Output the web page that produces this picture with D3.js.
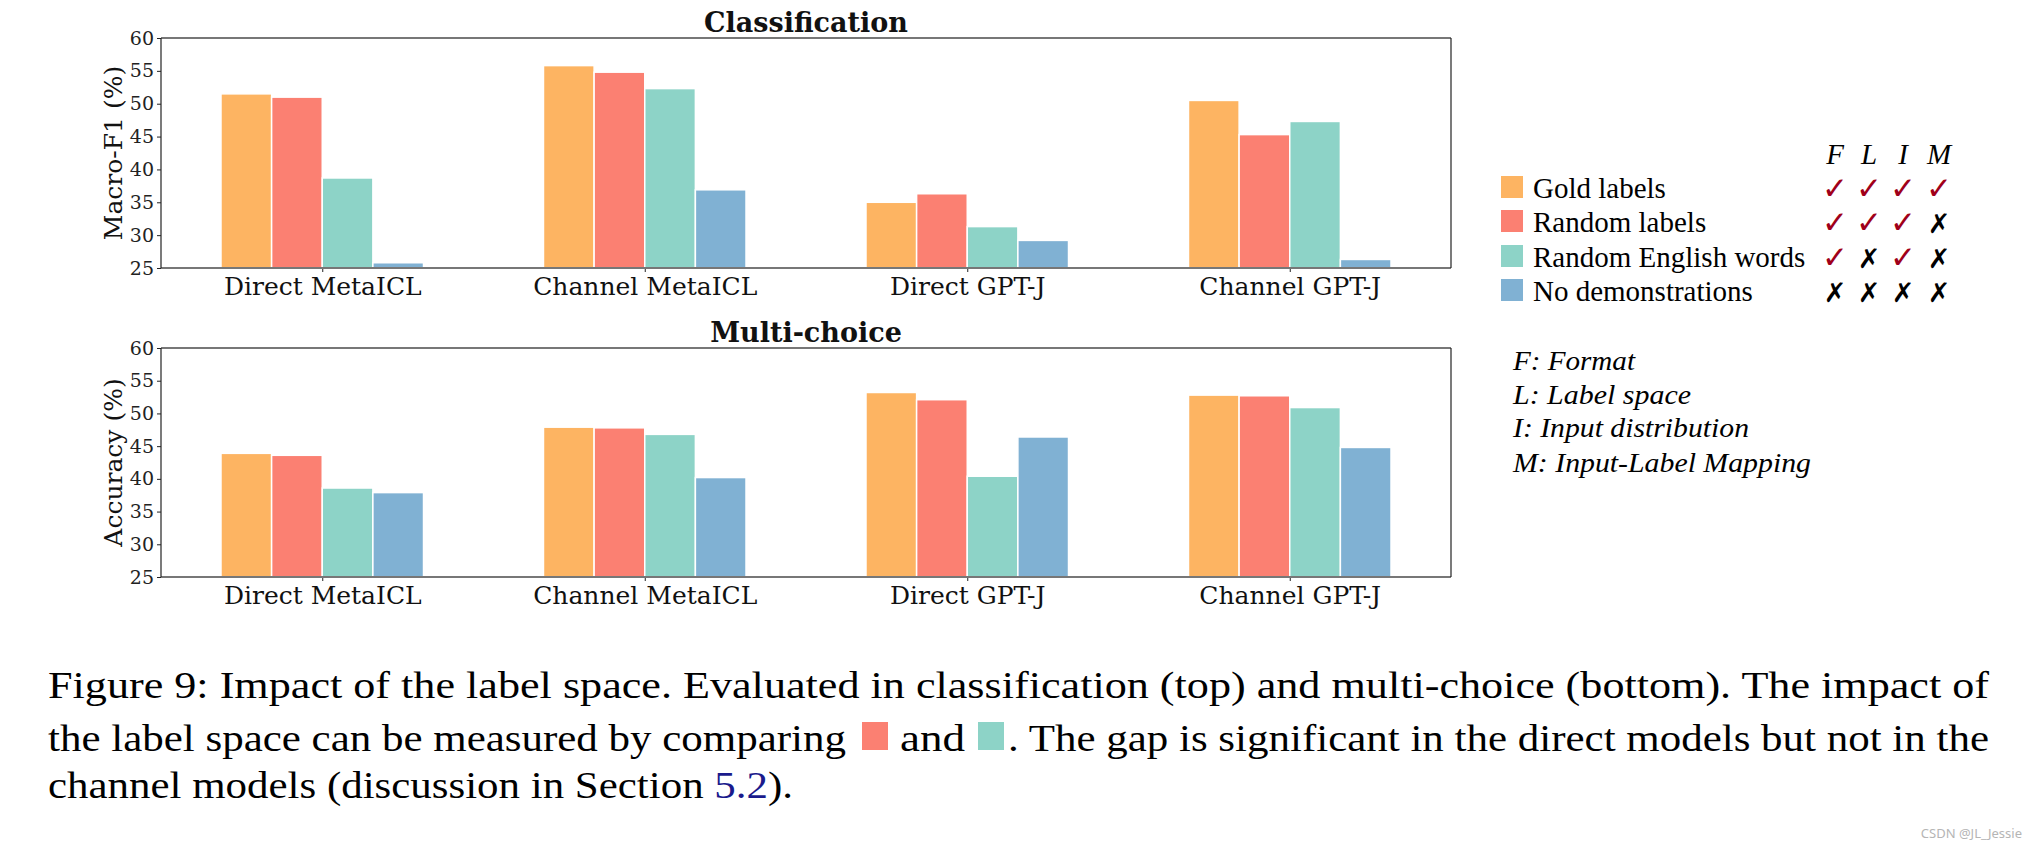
<!DOCTYPE html>
<html><head><meta charset="utf-8">
<script src="https://cdn.jsdelivr.net/npm/d3@7"></script>
<style>body{margin:0;background:#fff;} svg{display:block} .tm{font-family:'Liberation Serif';} .dv{font-family:'DejaVu Serif';}</style>
</head><body>
<svg id="c" width="2038" height="850"></svg>
<script>
// ---------- data ----------
const models = ["Direct MetaICL", "Channel MetaICL", "Direct GPT-J", "Channel GPT-J"];
const conditions = ["Gold labels", "Random labels", "Random English words", "No demonstrations"];
const clsGold    = [51.5, 55.8, 35.0, 50.5];
const clsRandom  = [51.0, 54.8, 36.3, 45.3];
const clsEnglish = [38.7, 52.3, 31.3, 47.3];
const clsNone    = [25.8, 36.9, 29.2, 26.3];
const mcGold     = [43.9, 47.9, 53.2, 52.8];
const mcRandom   = [43.6, 47.8, 52.1, 52.7];
const mcEnglish  = [38.6, 46.8, 40.4, 50.9];
const mcNone     = [37.9, 40.2, 46.4, 44.8];
const yTicks = [25, 30, 35, 40, 45, 50, 55, 60];
const factorHeaders = ["F", "L", "I", "M"];
const factorMarks = [
  [1, 1, 1, 1],
  [1, 1, 1, 0],
  [1, 0, 1, 0],
  [0, 0, 0, 0]
];
const factorNotes = ["F: Format", "L: Label space", "I: Input distribution", "M: Input-Label Mapping"];

// ---------- setup ----------
const svg = d3.select("#c");
const colors = ["#FDB462", "#FB8072", "#8DD3C7", "#80B1D3"];
const x = d3.scaleLinear().domain([-0.5, 3.5]).range([161, 1451]);
const barW = 0.157;

function panel(top, bottom, series, title, ylabel) {
  const y = d3.scaleLinear().domain([25, 60]).range([bottom, top]);
  const g = svg.append("g");
  series.forEach((vals, si) => {
    g.append("g").selectAll("rect").data(vals).join("rect")
      .attr("x", (d, i) => x(i + (si - 2) * barW))
      .attr("width", x(barW) - x(0))
      .attr("y", d => y(d))
      .attr("height", d => y(25) - y(d))
      .attr("fill", colors[si])
      .attr("stroke", "#fff").attr("stroke-width", 1.5);
  });
  // y axis
  const ga = g.append("g").attr("transform", "translate(161,0)")
    .call(d3.axisLeft(y).tickValues(yTicks).tickSize(4).tickPadding(3));
  ga.attr("font-family", null).attr("font-size", null);
  ga.select(".domain").remove();
  ga.selectAll("line").attr("stroke", "#222");
  ga.selectAll("text").attr("class", "dv").style("font-size", "19px").attr("fill", "#222");
  // x axis
  const gx = g.append("g").attr("transform", `translate(0,${bottom})`)
    .call(d3.axisBottom(x).tickValues([0, 1, 2, 3]).tickFormat(i => models[i]).tickSize(4));
  gx.attr("font-family", null).attr("font-size", null);
  gx.select(".domain").remove();
  gx.selectAll("line").attr("stroke", "#222");
  gx.selectAll("text").attr("class", "dv").style("font-size", "25px").attr("fill", "#111")
    .attr("y", 27).attr("dy", 0);
  // spines
  const [x0, x1] = x.range();
  g.append("line").attr("x1", x0).attr("x2", x1).attr("y1", top).attr("y2", top)
    .attr("stroke", "#777").attr("stroke-width", 2.2);
  g.append("line").attr("x1", x0).attr("x2", x1).attr("y1", bottom).attr("y2", bottom)
    .attr("stroke", "#777").attr("stroke-width", 2.2);
  g.append("line").attr("x1", x0).attr("x2", x0).attr("y1", top).attr("y2", bottom)
    .attr("stroke", "#222").attr("stroke-width", 1.2);
  g.append("line").attr("x1", x1).attr("x2", x1).attr("y1", top).attr("y2", bottom)
    .attr("stroke", "#222").attr("stroke-width", 1.2);
  // title
  g.append("text").attr("class", "dv").attr("x", (x0 + x1) / 2).attr("y", top - 6)
    .attr("text-anchor", "middle").style("font-weight", "bold")
    .style("font-size", "27px").attr("fill", "#111").text(title);
  // y label
  g.append("text").attr("class", "dv").attr("transform", `translate(113,${(top + bottom) / 2}) rotate(-90)`)
    .attr("text-anchor", "middle").attr("dominant-baseline", "central")
    .style("font-size", "25px").attr("fill", "#111").text(ylabel);
}

panel(38, 268, [clsGold, clsRandom, clsEnglish, clsNone], "Classification", "Macro-F1 (%)");
panel(348, 577, [mcGold, mcRandom, mcEnglish, mcNone], "Multi-choice", "Accuracy (%)");

// ---------- legend ----------
const rowBase = [198, 232, 267, 301];
const colX = [1835, 1869, 1903, 1939];
const lg = svg.append("g");
conditions.forEach((c, i) => {
  lg.append("rect").attr("x", 1501).attr("y", rowBase[i] - 22).attr("width", 22).attr("height", 22)
    .attr("fill", colors[i]);
  lg.append("text").attr("class", "tm").attr("x", 1533).attr("y", rowBase[i])
    .style("font-size", "29px").attr("fill", "#000").text(c);
  factorMarks[i].forEach((m, j) => {
    lg.append("text").attr("x", colX[j]).attr("y", rowBase[i] + 1).attr("text-anchor", "middle")
      .style("font-family", "'DejaVu Sans'").style("font-size", m ? "31px" : "27px")
      .style("font-weight", "bold")
      .attr("fill", m ? "#a0001a" : "#000").text(m ? "\u2713" : "\u2717");
  });
});
factorHeaders.forEach((h, j) => {
  lg.append("text").attr("class", "tm").attr("x", colX[j]).attr("y", 164).attr("text-anchor", "middle")
    .style("font-style", "italic").style("font-size", "29px")
    .attr("fill", "#000").text(h);
});
const noteBase = [370, 404, 437, 472];
const noteWidths = [122, 178, 236, 298];
factorNotes.forEach((t, i) => {
  lg.append("text").attr("class", "tm").attr("x", 1513).attr("y", noteBase[i])
    .style("font-style", "italic").style("font-size", "28px").attr("fill", "#000")
    .attr("textLength", noteWidths[i]).attr("lengthAdjust", "spacingAndGlyphs").text(t);
});

// ---------- caption ----------
const cap = svg.append("g");
function seg(str, x0, x1, yb) {
  return cap.append("text").attr("class", "tm").attr("x", x0).attr("y", yb)
    .style("font-size", "38px").attr("fill", "#000")
    .attr("textLength", x1 - x0).attr("lengthAdjust", "spacingAndGlyphs").text(str);
}
seg("Figure 9:  Impact of the label space.  Evaluated in classification (top) and multi-choice (bottom).  The impact of", 48, 1989, 698);
seg("the label space can be measured by comparing", 48, 846, 751);
cap.append("rect").attr("x", 862).attr("y", 722).attr("width", 26).attr("height", 28).attr("fill", colors[1]);
seg("and", 900, 965, 751);
cap.append("rect").attr("x", 978).attr("y", 722).attr("width", 26).attr("height", 28).attr("fill", colors[2]);
seg(". The gap is significant in the direct models but not in the", 1008, 1989, 751);
const l3 = cap.append("text").attr("class", "tm").attr("x", 48).attr("y", 798)
  .style("font-size", "38px").attr("fill", "#000")
  .attr("textLength", 745).attr("lengthAdjust", "spacingAndGlyphs");
l3.append("tspan").text("channel models (discussion in Section ");
l3.append("tspan").attr("fill", "#1a1a8c").text("5.2");
l3.append("tspan").text(").");

svg.append("text").attr("x", 2022).attr("y", 838).attr("text-anchor", "end")
  .style("font-family", "'Noto Sans'").style("font-size", "13px").attr("fill", "#b5b5b5")
  .text("CSDN @JL_Jessie");
</script>
</body></html>
